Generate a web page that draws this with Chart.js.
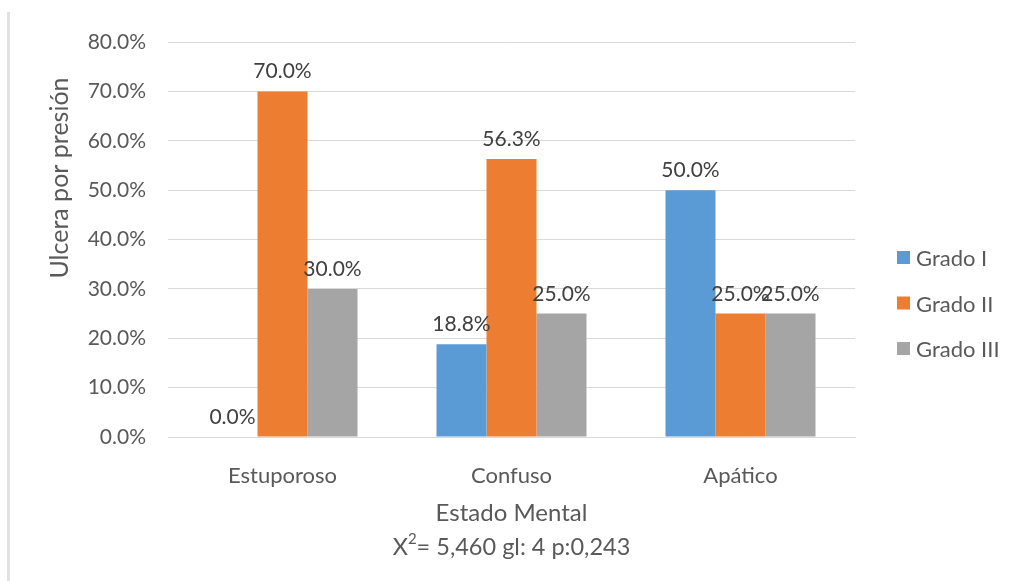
<!DOCTYPE html>
<html>
<head>
<meta charset="utf-8">
<script src="https://cdn.jsdelivr.net/npm/chart.js@4/dist/chart.umd.min.js"></script>
<style>
  html, body { margin: 0; padding: 0; background: #fff; }
  #wrap { width: 1012px; height: 581px; position: relative; }
</style>
</head>
<body>
<div id="wrap"><canvas id="chart" width="1012" height="581"></canvas></div>
<script>
// data
const categories = ["Estuporoso", "Confuso", "Apático"];
const gradoI = [0.0, 18.8, 50.0];
const gradoII = [70.0, 56.3, 25.0];
const gradoIII = [30.0, 25.0, 25.0];
const seriesNames = ["Grado I", "Grado II", "Grado III"];
const seriesColors = ["#5B9BD5", "#ED7D31", "#A5A5A5"];

const FONT = "Lato, 'Open Sans', sans-serif";

// value labels above bars + axis titles + legend + left rule
const extras = {
  id: 'extras',
  afterDatasetsDraw(chart) {
    const ctx = chart.ctx;
    ctx.save();
    ctx.font = "21px " + FONT;
    ctx.fillStyle = "#404040";
    ctx.textAlign = "center";
    ctx.textBaseline = "alphabetic";
    chart.data.datasets.forEach((ds, i) => {
      const meta = chart.getDatasetMeta(i);
      meta.data.forEach((bar, j) => {
        ctx.fillText(ds.data[j].toFixed(1) + "%", bar.x, bar.y - 13);
      });
    });
    ctx.restore();
  },
  afterDraw(chart) {
    const ctx = chart.ctx;
    const area = chart.chartArea;
    ctx.save();
    // left page rule
    ctx.fillStyle = "#e2e2e2";
    ctx.fillRect(7, 12, 3, chart.height - 12);

    // y title
    ctx.fillStyle = "#595959";
    ctx.font = "25px " + FONT;
    ctx.textAlign = "center";
    ctx.textBaseline = "middle";
    ctx.translate(60, 178);
    ctx.rotate(-Math.PI / 2);
    ctx.fillText("Ulcera por presión", 0, 0);
    ctx.restore();

    ctx.save();
    const cx = (area.left + area.right) / 2;
    ctx.fillStyle = "#595959";
    ctx.textAlign = "center";
    ctx.textBaseline = "middle";
    ctx.font = "24px " + FONT;
    ctx.fillText("Estado Mental", cx, 513);
    // subtitle with superscript 2
    const a = "X", b = "= 5,460 gl: 4 p:0,243";
    ctx.font = "23.5px " + FONT;
    const wa = ctx.measureText(a).width;
    const wb = ctx.measureText(b).width;
    ctx.font = "15px " + FONT;
    const ws = ctx.measureText("2").width;
    const total = wa + ws + wb;
    const x = cx - total / 2;
    ctx.textAlign = "left";
    ctx.font = "23.5px " + FONT;
    ctx.fillText(a, x, 547);
    ctx.font = "15px " + FONT;
    ctx.fillText("2", x + wa, 539);
    ctx.font = "23.5px " + FONT;
    ctx.fillText(b, x + wa + ws, 547);

    // legend
    ctx.font = "22px " + FONT;
    seriesNames.forEach((name, i) => {
      const y = 259 + i * 45.5;
      ctx.fillStyle = seriesColors[i];
      ctx.fillRect(897, y - 8, 13, 13);
      ctx.fillStyle = "#595959";
      ctx.fillText(name, 916, y);
    });
    ctx.restore();
  }
};

const makeSet = (label, data, color) => ({
  label: label,
  data: data,
  backgroundColor: color,
  borderWidth: 0,
  categoryPercentage: 0.655,
  barPercentage: 1.0
});

new Chart(document.getElementById('chart'), {
  type: 'bar',
  data: {
    labels: categories,
    datasets: [
      makeSet(seriesNames[0], gradoI, seriesColors[0]),
      makeSet(seriesNames[1], gradoII, seriesColors[1]),
      makeSet(seriesNames[2], gradoIII, seriesColors[2])
    ]
  },
  options: {
    responsive: false,
    animation: false,
    devicePixelRatio: 1,
    layout: { padding: { left: 0, right: 157, top: 42, bottom: 0 } },
    plugins: {
      legend: { display: false },
      tooltip: { enabled: false }
    },
    scales: {
      x: {
        afterFit: (s) => { s.height = 144; },
        grid: { display: false },
        border: { color: "#d9d9d9", width: 1 },
        ticks: {
          color: "#595959",
          font: { family: FONT, size: 22 },
          padding: 18
        }
      },
      y: {
        min: 0,
        max: 80,
        afterFit: (s) => { s.width = 168; },
        border: { display: false },
        grid: { color: "#d9d9d9", lineWidth: 1, drawTicks: false },
        ticks: {
          stepSize: 10,
          color: "#595959",
          padding: 22,
          font: { family: FONT, size: 21 },
          callback: (v) => v.toFixed(1) + "%"
        }
      }
    }
  },
  plugins: [extras]
});
</script>
</body>
</html>
